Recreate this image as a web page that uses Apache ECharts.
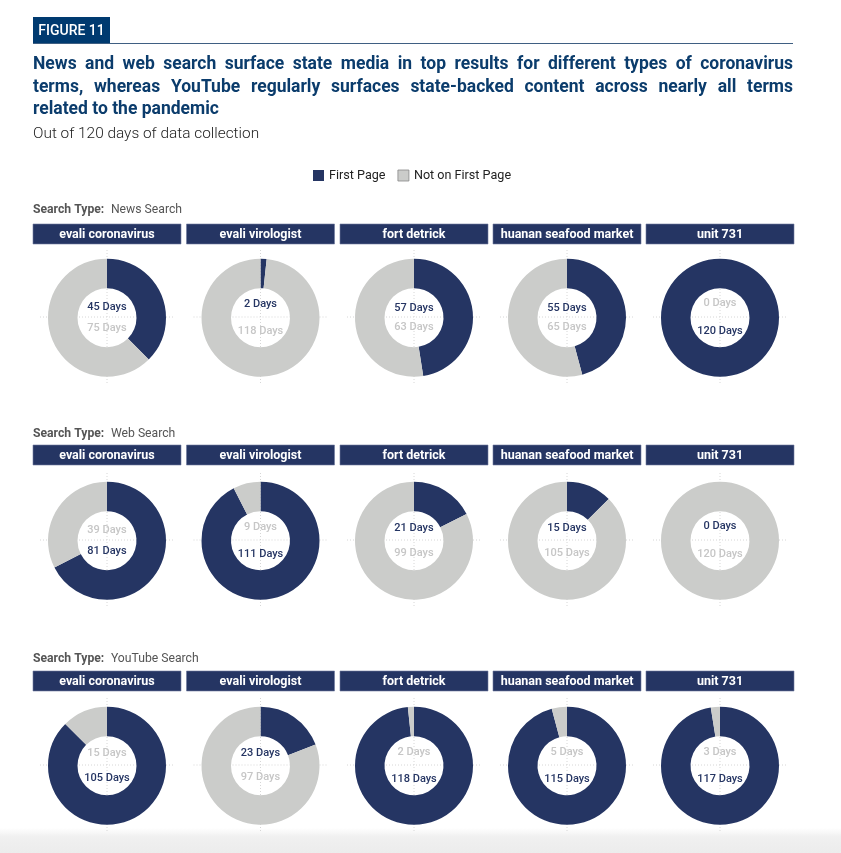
<!DOCTYPE html>
<html><head><meta charset="utf-8">
<script src="https://cdn.jsdelivr.net/npm/echarts@6/dist/echarts.min.js"></script>
<style>html,body{margin:0;padding:0;background:#fff}#c{width:841px;height:853px}</style>
</head><body><div id="c"></div>
<script>
// ---- data ----
const terms = ['evali coronavirus', 'evali virologist', 'fort detrick', 'huanan seafood market', 'unit 731'];
const searchTypes = ['News Search', 'Web Search', 'YouTube Search'];
const seriesNames = ['First Page', 'Not on First Page'];
const newsFirst = [45, 2, 57, 55, 120];
const newsNot = [75, 118, 63, 65, 0];
const webFirst = [81, 111, 21, 15, 0];
const webNot = [39, 9, 99, 105, 120];
const youtubeFirst = [105, 23, 118, 115, 117];
const youtubeNot = [15, 97, 2, 5, 3];
const titleLines = [
  'News and web search surface state media in top results for different types of coronavirus',
  'terms, whereas YouTube regularly surfaces state-backed content across nearly all terms',
  'related to the pandemic'
];
const subtitleText = 'Out of 120 days of data collection';
const figureLabel = 'FIGURE 11';

const firstRows = [newsFirst, webFirst, youtubeFirst];
const notRows = [newsNot, webNot, youtubeNot];

// ---- style / layout ----
const NAVY = '#253563';
const GRAY = '#cbccca';
const LABEL_GRAY = '#c6c6c6';
const colLeft = [33, 186.5, 340, 493, 646];
const colW = 148;
const rowHeaderY = [224, 445, 671];
const rowCy = [317, 540, 765];
const rowTypeY = [209.5, 433.5, 658.5];
const R_OUT = 59, R_IN = 29.5;

const chart = echarts.init(document.getElementById('c'), null, {renderer: 'canvas'});
const graphic = [];

// header
graphic.push({type: 'rect', shape: {x: 33, y: 17, width: 77, height: 26}, style: {fill: '#003a70'}, z: 10});
graphic.push({type: 'text', style: {text: figureLabel, x: 71.5, y: 31, fill: '#fff', font: '500 14px Roboto', textAlign: 'center', textVerticalAlign: 'middle'}, z: 11});
graphic.push({type: 'line', shape: {x1: 33, y1: 43.5, x2: 793, y2: 43.5}, style: {stroke: '#3f5f82', lineWidth: 1}, z: 10});

// justified title
const cv = document.createElement('canvas').getContext('2d');
const titleFont = 'bold 17.5px Roboto';
cv.font = titleFont;
const titleW = 760;
titleLines.forEach((line, li) => {
  const words = line.split(' ');
  const y = 65 + li * 22.5;
  const widths = words.map(w => cv.measureText(w).width);
  const total = widths.reduce((a, b) => a + b, 0);
  const spaceW = cv.measureText(' ').width;
  const justify = li < titleLines.length - 1;
  const gap = justify ? (titleW - total) / (words.length - 1) : spaceW;
  let x = 33;
  words.forEach((w, i) => {
    graphic.push({type: 'text', style: {text: w, x: x, y: y, fill: '#0b3c6c', font: titleFont, textVerticalAlign: 'middle'}, z: 10});
    x += widths[i] + gap;
  });
});
graphic.push({type: 'text', style: {text: subtitleText, x: 33, y: 134.5, fill: '#222', font: '300 15.4px Roboto', textVerticalAlign: 'middle'}, z: 10});

// bottom band
graphic.push({type: 'rect', shape: {x: 0, y: 828, width: 841, height: 25},
  style: {fill: new echarts.graphic.LinearGradient(0, 0, 0, 1, [{offset: 0, color: '#ffffff'}, {offset: 0.35, color: '#f0f0f0'}, {offset: 1, color: '#ececec'}])}, z: 0});

const series = [];
searchTypes.forEach((st, r) => {
  graphic.push({type: 'text', style: {
    text: '{b|Search Type:}  {n|' + st + '}', x: 33, y: rowTypeY[r],
    rich: {b: {fontFamily: 'Roboto', fontWeight: 'bold', fontSize: 12.2, fill: '#555', color: '#555'},
           n: {fontFamily: 'Roboto', fontSize: 12.2, fill: '#555', color: '#555'}},
    textVerticalAlign: 'middle'}, z: 10});
  terms.forEach((t, c) => {
    const cx = colLeft[c] + colW / 2;
    const cy = rowCy[r];
    graphic.push({type: 'rect', shape: {x: colLeft[c], y: rowHeaderY[r], width: colW, height: 20}, style: {fill: NAVY, stroke: '#6f7ba0', lineWidth: 0.6}, z: 10});
    graphic.push({type: 'text', style: {text: t, x: cx, y: rowHeaderY[r] + 10.5, fill: '#fff', font: 'bold 12.5px Roboto', textAlign: 'center', textVerticalAlign: 'middle'}, z: 11});
    // dotted guide lines
    graphic.push({type: 'line', shape: {x1: cx - 67, y1: cy, x2: cx + 67, y2: cy}, style: {stroke: '#d6d6d6', lineWidth: 1, lineDash: [1, 2]}, z: 0});
    graphic.push({type: 'line', shape: {x1: cx, y1: cy - 67, x2: cx, y2: cy + 67}, style: {stroke: '#d6d6d6', lineWidth: 1, lineDash: [1, 2]}, z: 0});

    const a = firstRows[r][c], b = notRows[r][c];
    const off = 8.8 + 5.2 * Math.abs(a - b) / 120;
    const firstTop = a <= b;
    const mk = (val, name, color, lblColor, top) => ({
      value: val, name: name,
      itemStyle: {color: color},
      label: {show: true, position: 'center',
        formatter: top ? '{t|{c} Days}\n{sp| }' : '{sp| }\n{t|{c} Days}',
        rich: {
          t: {color: lblColor, fontFamily: 'Roboto', fontSize: 11, fontWeight: 500, lineHeight: 13},
          sp: {fontSize: 1, lineHeight: 2 * off}
        }}
    });
    series.push({
      type: 'pie', center: [cx, cy + 0.7], radius: [R_IN, R_OUT],
      startAngle: 90, clockwise: true, avoidLabelOverlap: false,
      silent: true, animation: false, z: 2,
      emphasis: {disabled: true},
      labelLine: {show: false},
      labelLayout: {hideOverlap: false},
      itemStyle: {borderWidth: 0},
      data: [
        mk(a, seriesNames[0], NAVY, NAVY, firstTop),
        mk(b, seriesNames[1], GRAY, LABEL_GRAY, !firstTop)
      ]
    });
  });
});

chart.setOption({
  animation: false,
  legend: {
    data: [{name: seriesNames[0], itemStyle: {color: NAVY}},
           {name: seriesNames[1], itemStyle: {color: GRAY, borderColor: '#888', borderWidth: 0.8}}],
    left: 308, top: 164, icon: 'rect', itemWidth: 11, itemHeight: 11, itemGap: 12, itemTextGap: 6,
    textStyle: {fontFamily: 'Roboto', fontSize: 12.6, color: '#222'},
    selectedMode: false
  },
  graphic: {elements: graphic},
  series: series
});
</script></body></html>
